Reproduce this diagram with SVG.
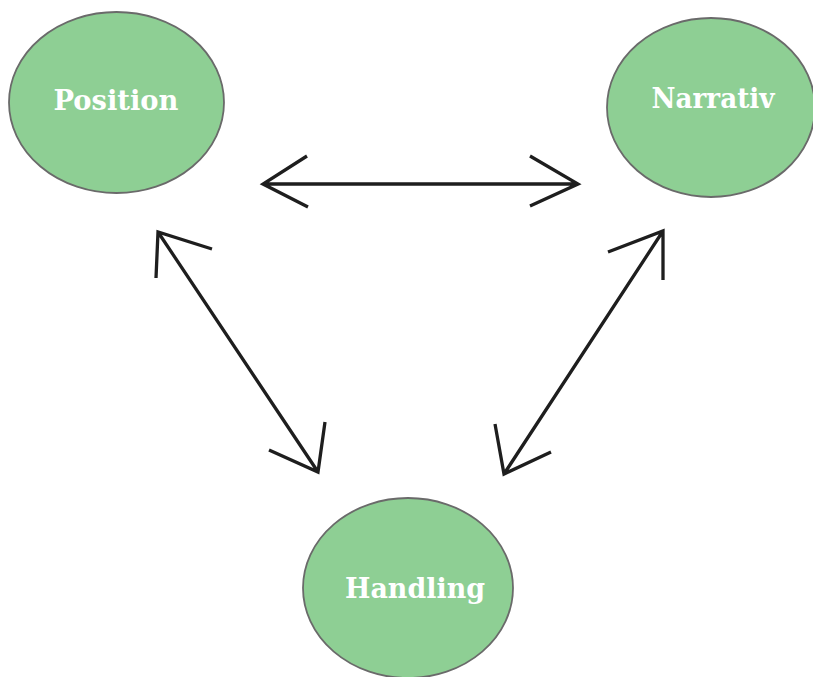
<svg xmlns="http://www.w3.org/2000/svg" width="813" height="677" viewBox="0 0 813 677">
<style>
.node{fill:#8ecf94;stroke:#6a6a6a;stroke-width:1.8}
.lbl{font-family:"DejaVu Serif","Liberation Serif",serif;font-weight:bold;font-size:27px;fill:#ffffff;text-anchor:middle}
.ar{fill:none;stroke:#1e1e1e;stroke-width:3.3;stroke-linecap:butt;stroke-linejoin:miter}
</style>
<rect width="813" height="677" fill="#ffffff"/>
<g id="position">
<ellipse class="node" cx="116.5" cy="102.5" rx="107.5" ry="90.5"/>
<text class="lbl" x="116" y="110" textLength="125" lengthAdjust="spacingAndGlyphs">Position</text>
</g>
<g id="narrativ">
<ellipse class="node" cx="711" cy="107.5" rx="104" ry="89.5"/>
<text class="lbl" x="713" y="108" textLength="123" lengthAdjust="spacingAndGlyphs">Narrativ</text>
</g>
<g id="handling">
<ellipse class="node" cx="408" cy="588" rx="105" ry="90"/>
<text class="lbl" x="415" y="598" textLength="140" lengthAdjust="spacingAndGlyphs">Handling</text>
</g>
<g id="connectors">
<path class="ar" d="M263,184 L578,184 M307,156 L263,184 L308,207 M530,156 L578,184 L530,206"/>
<path class="ar" d="M158,232 L318,472 M212,249 L158,232 L156,278 M269,450 L318,472 L325,422"/>
<path class="ar" d="M663,231 L504,474 M608,252 L663,231 L663,280 M495,424 L504,474 L551,452"/>
</g>
</svg>
